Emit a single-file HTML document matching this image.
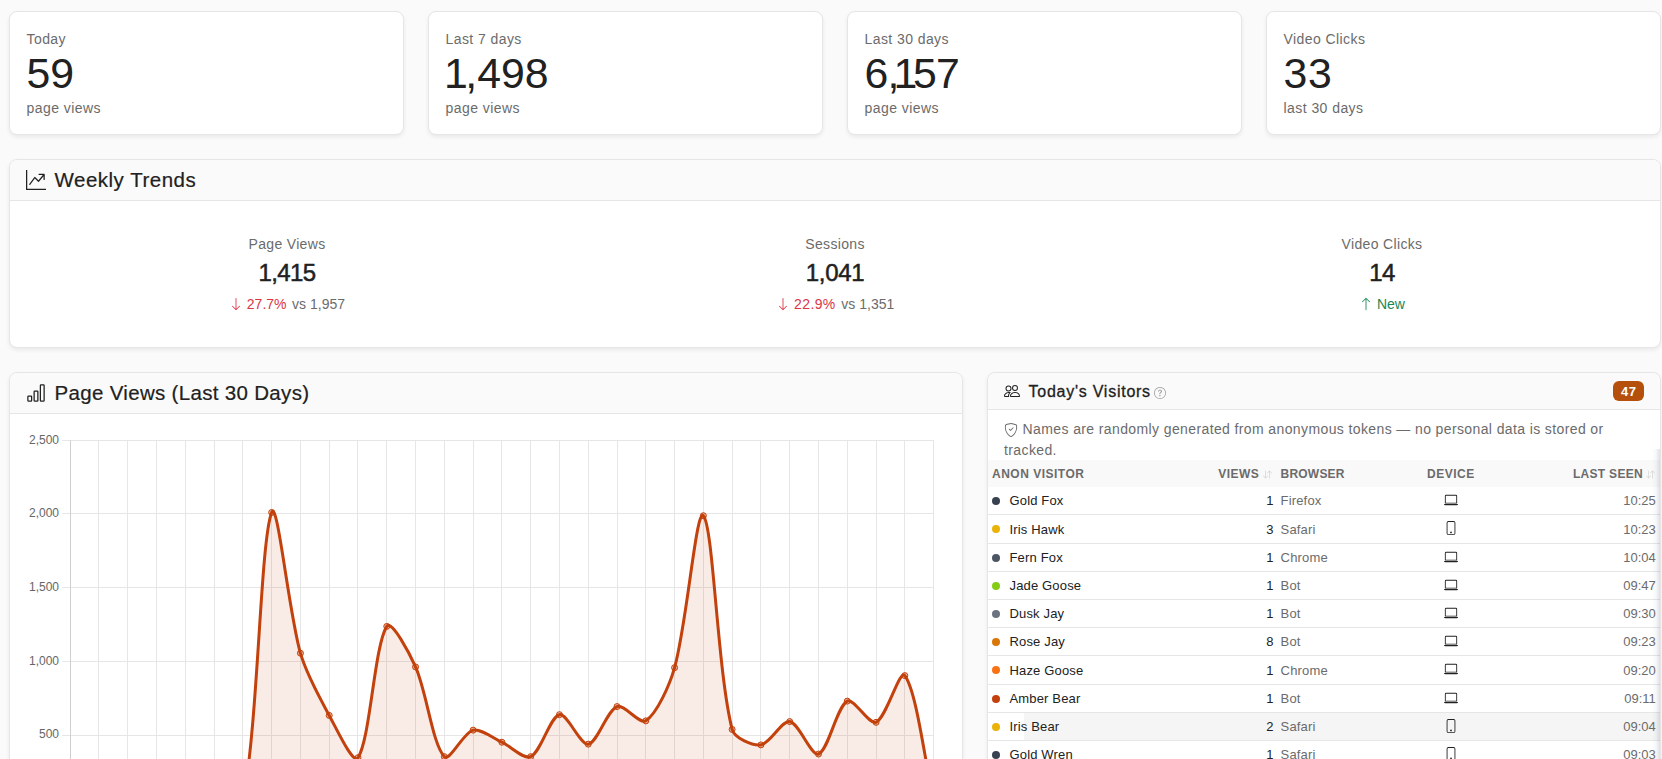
<!DOCTYPE html>
<html lang="en"><head><meta charset="utf-8"><title>Analytics</title>
<style>
*{box-sizing:border-box;margin:0;padding:0}
html,body{width:1662px;height:759px;overflow:hidden}
body{background:#fafafa;font-family:"Liberation Sans",Arial,sans-serif;color:#212121;position:relative}
.card{position:absolute;background:#fff;border:1px solid #e6e6e6;border-radius:8px;box-shadow:0 2px 4px rgba(0,0,0,.07)}
.stat{top:11px;width:395px;height:124px}
.s-lab{position:absolute;left:16.5px;top:18px;font-size:14px;line-height:18px;color:#6b6b6b;white-space:nowrap;letter-spacing:.42px}
.s-num{position:absolute;left:16.5px;top:37px;font-size:42.8px;line-height:48px;color:#212121;white-space:nowrap;letter-spacing:-.8px}
.n1{margin:0 -3.5px 0 -5px}
.s-sub{position:absolute;left:16.5px;top:87px;font-size:14px;line-height:18px;color:#6b6b6b;white-space:nowrap;letter-spacing:.44px}
.chead{position:absolute;left:0;right:0;top:0;background:#fafafa;border-bottom:1px solid #e6e6e6;border-radius:7px 7px 0 0}
.ico{position:absolute;display:block}
.h5{position:absolute;font-size:20.5px;line-height:24px;white-space:nowrap;color:#212121;letter-spacing:.5px;-webkit-text-stroke:.2px #212121}
.wk{position:absolute;top:0;width:300px;text-align:center}
.wk .l{position:absolute;left:0;right:0;top:75px;font-size:14px;line-height:18px;color:#6b6b6b;letter-spacing:.34px}
.wk .n{position:absolute;left:0;right:0;top:97.6px;font-size:24px;line-height:30px;color:#212121;-webkit-text-stroke:.5px #212121;letter-spacing:-.6px}
.vs{margin-left:1.7px}
.wk .d{position:absolute;left:0;right:0;top:135px;font-size:14px;line-height:18px;color:#6b6b6b;white-space:nowrap}
.arr{display:inline-block;vertical-align:-2px}
.red{color:#dc3545} .green{color:#198754}
.tick{font-family:"Liberation Sans",Arial,sans-serif;font-size:12px;fill:#666}
.chart{position:absolute;left:0;top:0}
.note{position:absolute;left:16px;top:46.1px;width:656px;font-size:14px;line-height:20.7px;color:#6b6b6b;letter-spacing:.385px;white-space:nowrap}
.thead{position:absolute;left:0;right:0;top:87px;height:27px;background:#f9f9f9;font-size:12px;font-weight:bold;color:#6b6b6b;letter-spacing:.5px;text-transform:uppercase}
.thead span{position:absolute;top:1px;line-height:27px;white-space:nowrap}
.tr{position:absolute;left:988px;width:672px;border-bottom:1px solid #e6e6e6;font-size:13px;line-height:27px;white-space:nowrap;letter-spacing:.16px}
.tr.hov{background:linear-gradient(90deg,#fff 0,#fff 36px,#f5f5f5 36px)}
.tr span{position:absolute;top:0}
.dot{left:4px;top:calc(50% - 4px)!important;width:8px;height:8px;border-radius:50%}
.nm{left:21.5px;color:#212121}
.vw{right:386.6px;color:#212121;letter-spacing:0}
.br{left:292.6px;color:#6b6b6b}
.tm{right:4.2px;color:#6b6b6b;letter-spacing:0}
.dev{left:455.5px;top:6px}
.edge{position:absolute;left:1652px;top:449px;width:8px;height:320px;background:linear-gradient(90deg,rgba(90,100,125,0) 0,rgba(90,100,125,.05) 50%,rgba(90,100,125,.2) 100%)}
.badge{position:absolute;left:625px;top:7.5px;width:31px;height:20px;border-radius:6px;background:#b4500b;color:#fff;font-size:13px;font-weight:bold;line-height:21.5px;text-align:center;letter-spacing:.4px;text-indent:.4px}
</style></head><body>
<div class="card stat" style="left:9.0px"><div class="s-lab">Today</div><div class="s-num"><span style="letter-spacing:0">59</span></div><div class="s-sub">page views</div></div>
<div class="card stat" style="left:428.0px"><div class="s-lab">Last 7 days</div><div class="s-num"><span style="letter-spacing:0"><span style="margin:0 -2.5px 0 -1.5px">1</span>,498</span></div><div class="s-sub">page views</div></div>
<div class="card stat" style="left:847.0px"><div class="s-lab">Last 30 days</div><div class="s-num">6,<span class="n1">1</span>57</div><div class="s-sub">page views</div></div>
<div class="card stat" style="left:1266.0px"><div class="s-lab">Video Clicks</div><div class="s-num"><span style="letter-spacing:.8px">33</span></div><div class="s-sub">last 30 days</div></div>

<div class="card" style="left:9px;top:159px;width:1652px;height:189px">
  <div class="chead" style="height:41px"><svg class="ico " width="20" height="20" viewBox="0 0 16 16" fill="currentColor" style="left:16px;top:10px;color:#212121"><path fill-rule="evenodd" d="M0 0h1v15h15v1H0zm10 3.5a.5.5 0 0 1 .5-.5h4a.5.5 0 0 1 .5.5v4a.5.5 0 0 1-1 0V4.9l-3.613 4.417a.5.5 0 0 1-.74.037L7.06 6.767l-3.656 5.027a.5.5 0 0 1-.808-.588l4-5.5a.5.5 0 0 1 .758-.06l2.609 2.61L13.445 4H10.5a.5.5 0 0 1-.5-.5"/></svg><div class="h5" style="left:44.5px;top:8px">Weekly Trends</div></div>
  <div class="wk" style="left:127px"><div class="l">Page Views</div><div class="n">1,415</div><div class="d"><span class="red"><svg class="arr" width="14" height="14" viewBox="0 0 16 16" fill="currentColor"><path fill-rule="evenodd" d="M8 1a.5.5 0 0 1 .5.5v11.793l3.146-3.147a.5.5 0 0 1 .708.708l-4 4a.5.5 0 0 1-.708 0l-4-4a.5.5 0 0 1 .708-.708L7.500 13.293V1.500A.5.5 0 0 1 8 1"/></svg> 27.7%</span><span class="vs"> vs 1,957</span></div></div>
  <div class="wk" style="left:675px"><div class="l">Sessions</div><div class="n" style="letter-spacing:-.35px">1,041</div><div class="d"><span class="red" style="letter-spacing:.4px"><svg class="arr" width="14" height="14" viewBox="0 0 16 16" fill="currentColor"><path fill-rule="evenodd" d="M8 1a.5.5 0 0 1 .5.5v11.793l3.146-3.147a.5.5 0 0 1 .708.708l-4 4a.5.5 0 0 1-.708 0l-4-4a.5.5 0 0 1 .708-.708L7.500 13.293V1.500A.5.5 0 0 1 8 1"/></svg> 22.9%</span><span class="vs"> vs 1,351</span></div></div>
  <div class="wk" style="left:1222px"><div class="l">Video Clicks</div><div class="n">14</div><div class="d"><span class="green"><svg class="arr" width="14" height="14" viewBox="0 0 16 16" fill="currentColor"><path fill-rule="evenodd" d="M8 15a.5.5 0 0 0 .5-.5V2.707l3.146 3.147a.5.5 0 0 0 .708-.708l-4-4a.5.5 0 0 0-.708 0l-4 4a.5.5 0 1 0 .708.708L7.500 2.707V14.500a.5.5 0 0 0 .5.5"/></svg> New</span></div></div>
</div>

<div class="card" style="left:9px;top:372px;width:954px;height:420px">
  <div class="chead" style="height:41px"><svg class="ico " width="20" height="20" viewBox="0 0 16 16" fill="currentColor" style="left:16px;top:9.5px;color:#212121"><path d="M4 11H2v3h2zm5-4H7v7h2zm5-5v12h-2V2zm-2-1a1 1 0 0 0-1 1v12a1 1 0 0 0 1 1h2a1 1 0 0 0 1-1V2a1 1 0 0 0-1-1zM6 7a1 1 0 0 1 1-1h2a1 1 0 0 1 1 1v7a1 1 0 0 1-1 1H7a1 1 0 0 1-1-1zm-5 4a1 1 0 0 1 1-1h2a1 1 0 0 1 1 1v3a1 1 0 0 1-1 1H2a1 1 0 0 1-1-1z"/></svg><div class="h5" style="left:44.5px;top:7.7px;letter-spacing:.32px">Page Views (Last 30 Days)</div></div>
</div>
<svg class="chart" width="963" height="759" viewBox="0 0 963 759">
<g stroke="#e6e6e6" stroke-width="1" fill="none"><line x1="70.50" y1="440.25" x2="70.50" y2="760" /><line x1="98.50" y1="440.25" x2="98.50" y2="760" /><line x1="127.50" y1="440.25" x2="127.50" y2="760" /><line x1="156.50" y1="440.25" x2="156.50" y2="760" /><line x1="185.50" y1="440.25" x2="185.50" y2="760" /><line x1="214.50" y1="440.25" x2="214.50" y2="760" /><line x1="242.50" y1="440.25" x2="242.50" y2="760" /><line x1="271.50" y1="440.25" x2="271.50" y2="760" /><line x1="300.50" y1="440.25" x2="300.50" y2="760" /><line x1="329.50" y1="440.25" x2="329.50" y2="760" /><line x1="357.50" y1="440.25" x2="357.50" y2="760" /><line x1="386.50" y1="440.25" x2="386.50" y2="760" /><line x1="415.50" y1="440.25" x2="415.50" y2="760" /><line x1="444.50" y1="440.25" x2="444.50" y2="760" /><line x1="473.50" y1="440.25" x2="473.50" y2="760" /><line x1="501.50" y1="440.25" x2="501.50" y2="760" /><line x1="530.50" y1="440.25" x2="530.50" y2="760" /><line x1="559.50" y1="440.25" x2="559.50" y2="760" /><line x1="588.50" y1="440.25" x2="588.50" y2="760" /><line x1="617.50" y1="440.25" x2="617.50" y2="760" /><line x1="645.50" y1="440.25" x2="645.50" y2="760" /><line x1="674.50" y1="440.25" x2="674.50" y2="760" /><line x1="703.50" y1="440.25" x2="703.50" y2="760" /><line x1="732.50" y1="440.25" x2="732.50" y2="760" /><line x1="760.50" y1="440.25" x2="760.50" y2="760" /><line x1="789.50" y1="440.25" x2="789.50" y2="760" /><line x1="818.50" y1="440.25" x2="818.50" y2="760" /><line x1="847.50" y1="440.25" x2="847.50" y2="760" /><line x1="876.50" y1="440.25" x2="876.50" y2="760" /><line x1="904.50" y1="440.25" x2="904.50" y2="760" /><line x1="933.50" y1="440.25" x2="933.50" y2="760" /><line x1="62.20" y1="440.50" x2="933.60" y2="440.50" /><line x1="62.20" y1="513.50" x2="933.60" y2="513.50" /><line x1="62.20" y1="587.50" x2="933.60" y2="587.50" /><line x1="62.20" y1="661.50" x2="933.60" y2="661.50" /><line x1="62.20" y1="735.50" x2="933.60" y2="735.50" /><line x1="62.20" y1="808.50" x2="933.60" y2="808.50" /></g>
<line x1="70.50" y1="440.25" x2="70.50" y2="760" stroke="#cfcfcf" stroke-width="1"/>
<path d="M70.20 808.70 C78.83 808.70 90.35 808.70 98.98 808.70 C107.61 808.70 119.13 808.70 127.76 808.70 C136.39 808.70 147.91 808.70 156.54 808.70 C165.17 808.70 176.69 808.70 185.32 808.70 C193.95 808.70 205.58 808.70 214.10 808.70 C222.85 807.69 241.29 808.70 242.88 802.07 C258.56 721.39 260.10 542.36 271.66 512.47 C277.37 497.71 288.75 611.99 300.44 653.21 C306.02 672.88 319.33 697.46 329.22 715.41 C336.60 728.81 353.24 765.07 358.00 757.71 C370.51 738.36 374.17 646.27 386.78 626.39 C391.44 619.04 409.60 653.42 415.56 666.92 C426.87 692.51 432.14 743.27 444.34 756.67 C449.41 762.24 463.51 732.56 473.12 730.15 C480.78 728.22 493.40 738.31 501.90 742.23 C510.67 746.27 523.99 759.88 530.68 756.67 C541.26 751.61 549.91 716.75 559.46 714.67 C567.18 712.99 580.20 745.28 588.24 744.15 C597.47 742.85 606.73 710.73 617.02 706.57 C624.00 703.74 639.81 724.91 645.80 720.86 C657.08 713.24 669.72 684.96 674.58 667.66 C686.99 623.42 696.15 507.97 703.36 515.71 C713.42 526.50 717.14 669.70 732.14 729.41 C734.41 738.46 752.82 745.98 760.92 744.88 C770.09 743.64 781.75 720.34 789.70 721.60 C799.01 723.08 811.25 756.59 818.48 754.02 C828.52 750.45 836.42 707.08 847.26 701.11 C853.69 697.57 869.23 725.35 876.04 722.34 C886.49 717.70 899.63 668.61 904.82 675.62 C916.90 691.91 924.97 762.69 933.60 800.00 L933.60 808.70 L70.20 808.70 Z" fill="rgba(194,65,12,0.1)" stroke="none"/>
<path d="M70.20 808.70 C78.83 808.70 90.35 808.70 98.98 808.70 C107.61 808.70 119.13 808.70 127.76 808.70 C136.39 808.70 147.91 808.70 156.54 808.70 C165.17 808.70 176.69 808.70 185.32 808.70 C193.95 808.70 205.58 808.70 214.10 808.70 C222.85 807.69 241.29 808.70 242.88 802.07 C258.56 721.39 260.10 542.36 271.66 512.47 C277.37 497.71 288.75 611.99 300.44 653.21 C306.02 672.88 319.33 697.46 329.22 715.41 C336.60 728.81 353.24 765.07 358.00 757.71 C370.51 738.36 374.17 646.27 386.78 626.39 C391.44 619.04 409.60 653.42 415.56 666.92 C426.87 692.51 432.14 743.27 444.34 756.67 C449.41 762.24 463.51 732.56 473.12 730.15 C480.78 728.22 493.40 738.31 501.90 742.23 C510.67 746.27 523.99 759.88 530.68 756.67 C541.26 751.61 549.91 716.75 559.46 714.67 C567.18 712.99 580.20 745.28 588.24 744.15 C597.47 742.85 606.73 710.73 617.02 706.57 C624.00 703.74 639.81 724.91 645.80 720.86 C657.08 713.24 669.72 684.96 674.58 667.66 C686.99 623.42 696.15 507.97 703.36 515.71 C713.42 526.50 717.14 669.70 732.14 729.41 C734.41 738.46 752.82 745.98 760.92 744.88 C770.09 743.64 781.75 720.34 789.70 721.60 C799.01 723.08 811.25 756.59 818.48 754.02 C828.52 750.45 836.42 707.08 847.26 701.11 C853.69 697.57 869.23 725.35 876.04 722.34 C886.49 717.70 899.63 668.61 904.82 675.62 C916.90 691.91 924.97 762.69 933.60 800.00" fill="none" stroke="#c2410c" stroke-width="3" stroke-linejoin="round"/>
<circle cx="271.66" cy="512.47" r="3" fill="rgba(194,65,12,0.35)" stroke="#c2410c" stroke-width="1"/>
<circle cx="300.44" cy="653.21" r="3" fill="rgba(194,65,12,0.35)" stroke="#c2410c" stroke-width="1"/>
<circle cx="329.22" cy="715.41" r="3" fill="rgba(194,65,12,0.35)" stroke="#c2410c" stroke-width="1"/>
<circle cx="358.00" cy="757.71" r="3" fill="rgba(194,65,12,0.35)" stroke="#c2410c" stroke-width="1"/>
<circle cx="386.78" cy="626.39" r="3" fill="rgba(194,65,12,0.35)" stroke="#c2410c" stroke-width="1"/>
<circle cx="415.56" cy="666.92" r="3" fill="rgba(194,65,12,0.35)" stroke="#c2410c" stroke-width="1"/>
<circle cx="444.34" cy="756.67" r="3" fill="rgba(194,65,12,0.35)" stroke="#c2410c" stroke-width="1"/>
<circle cx="473.12" cy="730.15" r="3" fill="rgba(194,65,12,0.35)" stroke="#c2410c" stroke-width="1"/>
<circle cx="501.90" cy="742.23" r="3" fill="rgba(194,65,12,0.35)" stroke="#c2410c" stroke-width="1"/>
<circle cx="530.68" cy="756.67" r="3" fill="rgba(194,65,12,0.35)" stroke="#c2410c" stroke-width="1"/>
<circle cx="559.46" cy="714.67" r="3" fill="rgba(194,65,12,0.35)" stroke="#c2410c" stroke-width="1"/>
<circle cx="588.24" cy="744.15" r="3" fill="rgba(194,65,12,0.35)" stroke="#c2410c" stroke-width="1"/>
<circle cx="617.02" cy="706.57" r="3" fill="rgba(194,65,12,0.35)" stroke="#c2410c" stroke-width="1"/>
<circle cx="645.80" cy="720.86" r="3" fill="rgba(194,65,12,0.35)" stroke="#c2410c" stroke-width="1"/>
<circle cx="674.58" cy="667.66" r="3" fill="rgba(194,65,12,0.35)" stroke="#c2410c" stroke-width="1"/>
<circle cx="703.36" cy="515.71" r="3" fill="rgba(194,65,12,0.35)" stroke="#c2410c" stroke-width="1"/>
<circle cx="732.14" cy="729.41" r="3" fill="rgba(194,65,12,0.35)" stroke="#c2410c" stroke-width="1"/>
<circle cx="760.92" cy="744.88" r="3" fill="rgba(194,65,12,0.35)" stroke="#c2410c" stroke-width="1"/>
<circle cx="789.70" cy="721.60" r="3" fill="rgba(194,65,12,0.35)" stroke="#c2410c" stroke-width="1"/>
<circle cx="818.48" cy="754.02" r="3" fill="rgba(194,65,12,0.35)" stroke="#c2410c" stroke-width="1"/>
<circle cx="847.26" cy="701.11" r="3" fill="rgba(194,65,12,0.35)" stroke="#c2410c" stroke-width="1"/>
<circle cx="876.04" cy="722.34" r="3" fill="rgba(194,65,12,0.35)" stroke="#c2410c" stroke-width="1"/>
<circle cx="904.82" cy="675.62" r="3" fill="rgba(194,65,12,0.35)" stroke="#c2410c" stroke-width="1"/>
<text x="59" y="443.65" text-anchor="end" class="tick">2,500</text>
<text x="59" y="517.34" text-anchor="end" class="tick">2,000</text>
<text x="59" y="591.03" text-anchor="end" class="tick">1,500</text>
<text x="59" y="664.72" text-anchor="end" class="tick">1,000</text>
<text x="59" y="738.41" text-anchor="end" class="tick">500</text>
</svg>

<div class="card" style="left:987px;top:372px;width:674px;height:420px;overflow:hidden">
  <div class="chead" style="height:37px"><svg class="ico " width="16" height="16" viewBox="0 0 16 16" fill="currentColor" style="left:15.6px;top:10px;color:#212121"><path d="M15 14s1 0 1-1-1-4-5-4-5 3-5 4 1 1 1 1zm-7.978-1L7 12.996c.001-.264.167-1.03.76-1.72C8.312 10.629 9.282 10 11 10c1.717 0 2.687.63 3.24 1.276.593.69.758 1.457.76 1.72l-.008.002-.014.002zM11 7a2 2 0 1 0 0-4 2 2 0 0 0 0 4m3-2a3 3 0 1 1-6 0 3 3 0 0 1 6 0M6.936 9.28a6 6 0 0 0-1.23-.247A7 7 0 0 0 5 9c-4 0-5 3-5 4q0 1 1 1h4.216A2.24 2.24 0 0 1 5 13c0-1.01.377-2.042 1.09-2.904.243-.294.526-.569.846-.816M4.92 10A5.500 5.500 0 0 0 4 13H1c0-.26.164-1.03.76-1.724.545-.636 1.492-1.256 3.16-1.275ZM1.500 5.500a3 3 0 1 1 6 0 3 3 0 0 1-6 0m3-2a2 2 0 1 0 0 4 2 2 0 0 0 0-4"/></svg><div class="h5" style="left:40.5px;top:7px;font-size:16px;letter-spacing:.75px;-webkit-text-stroke:.3px #212121">Today's Visitors</div><svg class="ico " width="12" height="12" viewBox="0 0 16 16" fill="currentColor" style="left:166px;top:14px;color:#9a9a9a"><path d="M8 15A7 7 0 1 1 8 1a7 7 0 0 1 0 14m0 1A8 8 0 1 0 8 0a8 8 0 0 0 0 16"/><path d="M5.255 5.786a.237.237 0 0 0 .241.247h.825c.138 0 .248-.113.266-.25.09-.656.54-1.134 1.342-1.134.686 0 1.314.343 1.314 1.168 0 .635-.374.927-.965 1.371-.673.489-1.206 1.060-1.168 1.987l.003.217a.25.25 0 0 0 .25.246h.811a.25.25 0 0 0 .25-.25v-.105c0-.718.273-.927 1.010-1.486.609-.463 1.244-.977 1.244-2.056 0-1.511-1.276-2.241-2.673-2.241-1.267 0-2.655.59-2.750 2.286m1.557 5.763c0 .533.425.927 1.010.927.609 0 1.028-.394 1.028-.927 0-.552-.42-.94-1.029-.94-.584 0-1.009.388-1.009.94"/></svg><div class="badge">47</div></div>
  <div class="note"><svg class="ico " width="14" height="14" viewBox="0 0 16 16" fill="currentColor" style="left:0;top:3.5px;color:#6b6b6b"><path d="M5.338 1.59a61 61 0 0 0-2.837.856.48.48 0 0 0-.328.39c-.554 4.157.726 7.190 2.253 9.188a10.700 10.700 0 0 0 2.287 2.233c.346.244.652.42.893.533q.18.085.293.118a1 1 0 0 0 .101.025 1 1 0 0 0 .1-.025q.114-.034.294-.118c.24-.113.547-.29.893-.533a10.700 10.700 0 0 0 2.287-2.233c1.527-1.997 2.807-5.031 2.253-9.188a.48.48 0 0 0-.328-.39c-.651-.213-1.750-.56-2.837-.855C9.552 1.290 8.531 1.067 8 1.067c-.53 0-1.552.223-2.662.524zM5.072.56C6.157.265 7.310 0 8 0s1.843.265 2.928.56c1.110.3 2.229.655 2.887.87a1.540 1.540 0 0 1 1.044 1.262c.596 4.477-.787 7.795-2.465 9.990a11.800 11.800 0 0 1-2.517 2.453 7 7 0 0 1-1.048.625c-.28.132-.581.24-.829.24s-.548-.108-.829-.24a7 7 0 0 1-1.048-.625 11.800 11.800 0 0 1-2.517-2.453C1.928 10.487.545 7.169 1.141 2.692A1.540 1.540 0 0 1 2.185 1.430 63 63 0 0 1 5.072.56"/><path d="M10.854 5.146a.5.5 0 0 1 0 .708l-3 3a.5.5 0 0 1-.708 0l-1.500-1.500a.5.5 0 1 1 .708-.708L7.500 7.793l2.646-2.647a.5.5 0 0 1 .708 0"/></svg><span style="padding-left:18.6px">Names are randomly generated from anonymous tokens — no personal data is stored or<br>tracked.</span></div>
  <div class="thead"><span style="left:4px">ANON VISITOR</span><span style="right:400.7px">VIEWS</span><svg class="ico " width="9" height="9" viewBox="0 0 16 16" fill="currentColor" style="left:275px;top:9.8px;color:#c9c9c9"><path fill-rule="evenodd" d="M11.500 15a.5.5 0 0 0 .5-.5V2.707l3.146 3.147a.5.5 0 0 0 .708-.708l-4-4a.5.5 0 0 0-.708 0l-4 4a.5.5 0 1 0 .708.708L11 2.707V14.500a.5.5 0 0 0 .5.5m-7-14a.5.5 0 0 1 .5.5v11.793l3.146-3.147a.5.5 0 0 1 .708.708l-4 4a.5.5 0 0 1-.708 0l-4-4a.5.5 0 0 1 .708-.708L4 13.293V1.500a.5.5 0 0 1 .5-.5"/></svg><span style="left:292.6px;letter-spacing:.2px">BROWSER</span><span style="left:439px">DEVICE</span><span style="right:17px;letter-spacing:.3px">LAST SEEN</span><svg class="ico " width="9" height="9" viewBox="0 0 16 16" fill="currentColor" style="left:658.4px;top:9.8px;color:#cdcdcd"><path fill-rule="evenodd" d="M11.500 15a.5.5 0 0 0 .5-.5V2.707l3.146 3.147a.5.5 0 0 0 .708-.708l-4-4a.5.5 0 0 0-.708 0l-4 4a.5.5 0 1 0 .708.708L11 2.707V14.500a.5.5 0 0 0 .5.5m-7-14a.5.5 0 0 1 .5.5v11.793l3.146-3.147a.5.5 0 0 1 .708.708l-4 4a.5.5 0 0 1-.708 0l-4-4a.5.5 0 0 1 .708-.708L4 13.293V1.500a.5.5 0 0 1 .5-.5"/></svg></div>
</div>
<div class="tr" style="top:487px;height:28px;line-height:27px"><span class="dot" style="background:#374151"></span><span class="nm">Gold Fox</span><span class="vw">1</span><span class="br">Firefox</span><svg class="ico dev" width="14" height="14" viewBox="0 0 16 16" fill="currentColor" ><path d="M13.500 3a.5.5 0 0 1 .5.5V11H2V3.500a.5.5 0 0 1 .5-.5zm-11-1A1.500 1.500 0 0 0 1 3.500V12h14V3.500A1.500 1.500 0 0 0 13.500 2zM0 12.500h16a1.500 1.500 0 0 1-1.500 1.500h-13A1.500 1.500 0 0 1 0 12.500"/></svg><span class="tm">10:25</span></div>
<div class="tr" style="top:515px;height:29px;line-height:30px"><span class="dot" style="background:#eab308"></span><span class="nm">Iris Hawk</span><span class="vw">3</span><span class="br">Safari</span><svg class="ico dev" width="14" height="14" viewBox="0 0 16 16" fill="currentColor" ><path d="M11 1a1 1 0 0 1 1 1v12a1 1 0 0 1-1 1H5a1 1 0 0 1-1-1V2a1 1 0 0 1 1-1zM5 0a2 2 0 0 0-2 2v12a2 2 0 0 0 2 2h6a2 2 0 0 0 2-2V2a2 2 0 0 0-2-2z"/><path d="M8 14a1 1 0 1 0 0-2 1 1 0 0 0 0 2"/></svg><span class="tm">10:23</span></div>
<div class="tr" style="top:544px;height:28px;line-height:27px"><span class="dot" style="background:#4b5563"></span><span class="nm">Fern Fox</span><span class="vw">1</span><span class="br">Chrome</span><svg class="ico dev" width="14" height="14" viewBox="0 0 16 16" fill="currentColor" ><path d="M13.500 3a.5.5 0 0 1 .5.5V11H2V3.500a.5.5 0 0 1 .5-.5zm-11-1A1.500 1.500 0 0 0 1 3.500V12h14V3.500A1.500 1.500 0 0 0 13.500 2zM0 12.500h16a1.500 1.500 0 0 1-1.500 1.500h-13A1.500 1.500 0 0 1 0 12.500"/></svg><span class="tm">10:04</span></div>
<div class="tr" style="top:572px;height:28px;line-height:27px"><span class="dot" style="background:#84cc16"></span><span class="nm">Jade Goose</span><span class="vw">1</span><span class="br">Bot</span><svg class="ico dev" width="14" height="14" viewBox="0 0 16 16" fill="currentColor" ><path d="M13.500 3a.5.5 0 0 1 .5.5V11H2V3.500a.5.5 0 0 1 .5-.5zm-11-1A1.500 1.500 0 0 0 1 3.500V12h14V3.500A1.500 1.500 0 0 0 13.500 2zM0 12.500h16a1.500 1.500 0 0 1-1.500 1.500h-13A1.500 1.500 0 0 1 0 12.500"/></svg><span class="tm">09:47</span></div>
<div class="tr" style="top:600px;height:28px;line-height:27px"><span class="dot" style="background:#6b7280"></span><span class="nm">Dusk Jay</span><span class="vw">1</span><span class="br">Bot</span><svg class="ico dev" width="14" height="14" viewBox="0 0 16 16" fill="currentColor" ><path d="M13.500 3a.5.5 0 0 1 .5.5V11H2V3.500a.5.5 0 0 1 .5-.5zm-11-1A1.500 1.500 0 0 0 1 3.500V12h14V3.500A1.500 1.500 0 0 0 13.500 2zM0 12.500h16a1.500 1.500 0 0 1-1.500 1.500h-13A1.500 1.500 0 0 1 0 12.500"/></svg><span class="tm">09:30</span></div>
<div class="tr" style="top:628px;height:28px;line-height:27px"><span class="dot" style="background:#d97706"></span><span class="nm">Rose Jay</span><span class="vw">8</span><span class="br">Bot</span><svg class="ico dev" width="14" height="14" viewBox="0 0 16 16" fill="currentColor" ><path d="M13.500 3a.5.5 0 0 1 .5.5V11H2V3.500a.5.5 0 0 1 .5-.5zm-11-1A1.500 1.500 0 0 0 1 3.500V12h14V3.500A1.500 1.500 0 0 0 13.500 2zM0 12.500h16a1.500 1.500 0 0 1-1.500 1.500h-13A1.500 1.500 0 0 1 0 12.500"/></svg><span class="tm">09:23</span></div>
<div class="tr" style="top:656px;height:29px;line-height:30px"><span class="dot" style="background:#f97316"></span><span class="nm">Haze Goose</span><span class="vw">1</span><span class="br">Chrome</span><svg class="ico dev" width="14" height="14" viewBox="0 0 16 16" fill="currentColor" ><path d="M13.500 3a.5.5 0 0 1 .5.5V11H2V3.500a.5.5 0 0 1 .5-.5zm-11-1A1.500 1.500 0 0 0 1 3.500V12h14V3.500A1.500 1.500 0 0 0 13.500 2zM0 12.500h16a1.500 1.500 0 0 1-1.500 1.500h-13A1.500 1.500 0 0 1 0 12.500"/></svg><span class="tm">09:20</span></div>
<div class="tr" style="top:685px;height:28px;line-height:27px"><span class="dot" style="background:#c2410c"></span><span class="nm">Amber Bear</span><span class="vw">1</span><span class="br">Bot</span><svg class="ico dev" width="14" height="14" viewBox="0 0 16 16" fill="currentColor" ><path d="M13.500 3a.5.5 0 0 1 .5.5V11H2V3.500a.5.5 0 0 1 .5-.5zm-11-1A1.500 1.500 0 0 0 1 3.500V12h14V3.500A1.500 1.500 0 0 0 13.500 2zM0 12.500h16a1.500 1.500 0 0 1-1.500 1.500h-13A1.500 1.500 0 0 1 0 12.500"/></svg><span class="tm">09:11</span></div>
<div class="tr hov" style="top:713px;height:28px;line-height:27px"><span class="dot" style="background:#eab308"></span><span class="nm">Iris Bear</span><span class="vw">2</span><span class="br">Safari</span><svg class="ico dev" width="14" height="14" viewBox="0 0 16 16" fill="currentColor" ><path d="M11 1a1 1 0 0 1 1 1v12a1 1 0 0 1-1 1H5a1 1 0 0 1-1-1V2a1 1 0 0 1 1-1zM5 0a2 2 0 0 0-2 2v12a2 2 0 0 0 2 2h6a2 2 0 0 0 2-2V2a2 2 0 0 0-2-2z"/><path d="M8 14a1 1 0 1 0 0-2 1 1 0 0 0 0 2"/></svg><span class="tm">09:04</span></div>
<div class="tr" style="top:741px;height:28px;line-height:27px"><span class="dot" style="background:#374151"></span><span class="nm">Gold Wren</span><span class="vw">1</span><span class="br">Safari</span><svg class="ico dev" width="14" height="14" viewBox="0 0 16 16" fill="currentColor" ><path d="M11 1a1 1 0 0 1 1 1v12a1 1 0 0 1-1 1H5a1 1 0 0 1-1-1V2a1 1 0 0 1 1-1zM5 0a2 2 0 0 0-2 2v12a2 2 0 0 0 2 2h6a2 2 0 0 0 2-2V2a2 2 0 0 0-2-2z"/><path d="M8 14a1 1 0 1 0 0-2 1 1 0 0 0 0 2"/></svg><span class="tm">09:03</span></div>

<div class="edge"></div>
</body></html>
